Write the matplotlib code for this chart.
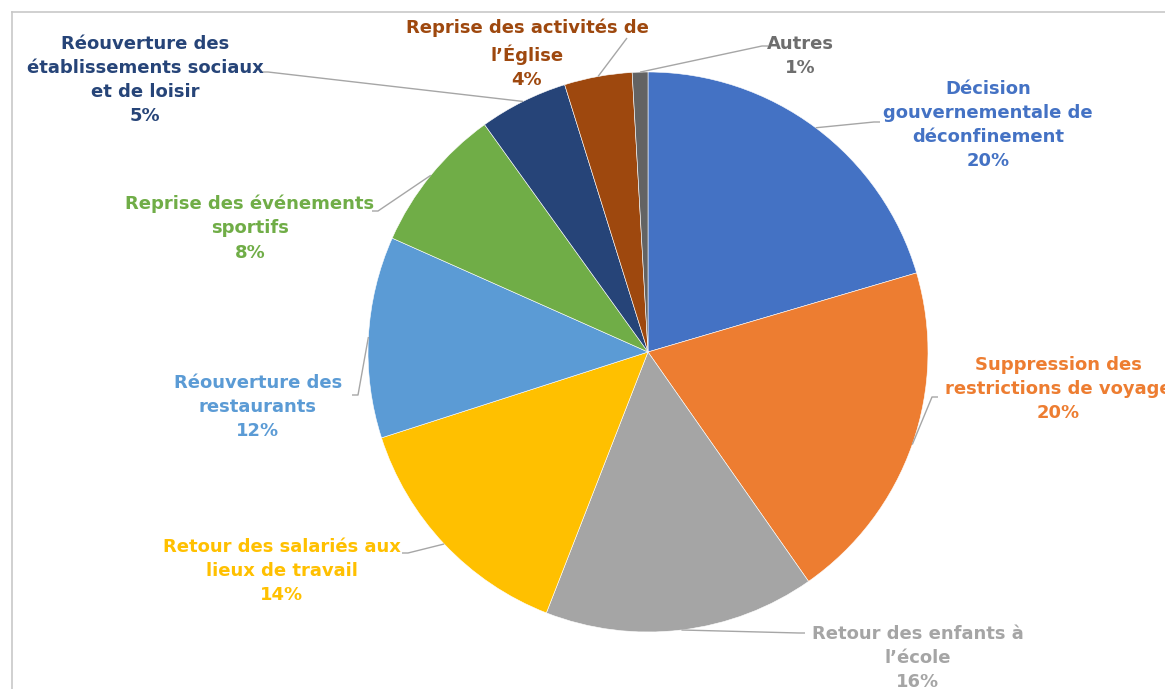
#!/usr/bin/env python3
"""Pie chart: facteurs de reprise (déconfinement), labels outside with leader lines."""

import matplotlib
matplotlib.use("Agg")
import matplotlib.pyplot as plt
import numpy as np
from matplotlib.lines import Line2D

W, H = 1165, 689

# Data (clockwise from 12 o'clock)
categories = [
    "Décision\ngouvernementale de\ndéconfinement",
    "Suppression des\nrestrictions de voyage",
    "Retour des enfants à\nl\u2019école",
    "Retour des salariés aux\nlieux de travail",
    "Réouverture des\nrestaurants",
    "Reprise des événements\nsportifs",
    "Réouverture des\nétablissements sociaux\net de loisir",
    "Reprise des activités de\nl\u2019Église",
    "Autres",
]
values = [20.4, 19.8, 15.6, 14.1, 11.6, 8.4, 5.1, 3.9, 0.9]
colors = ["#4472C4", "#ED7D31", "#A5A5A5", "#FFC000", "#5B9BD5",
          "#70AD47", "#264478", "#9E480E", "#636363"]
text_colors = ["#4472C4", "#ED7D31", "#A5A5A5", "#FFC000", "#5B9BD5",
               "#70AD47", "#264478", "#9E480E", "#6E6E6E"]

# Layout (pixel coords, y from top): label centre, leader attach point, stub direction
label_xy = [(988, 125), (1058, 389), (918, 658), (282, 571), (258, 407),
            (250, 228), (145, 80), (527, 54), (800, 56)]
attach_xy = [(880, 122), (938, 397), (805, 633), (402, 553), (352, 395),
             (372, 211), (262, 72), (627, 38), (768, 46)]
stub_dir = [1, 1, 1, -1, -1, -1, -1, 0, 1]

CENTER = (648, 352)
RADIUS = 280


def px(x, y):
    return x, H - y


fig = plt.figure(figsize=(W / 100, H / 100), dpi=100)
ax = fig.add_axes([0, 0, 1, 1])

wedges, _ = ax.pie(
    values, colors=colors, startangle=90, counterclock=False,
    center=px(*CENTER), radius=RADIUS,
    wedgeprops=dict(edgecolor="white", linewidth=0.4),
)
ax.set_xlim(0, W)
ax.set_ylim(0, H)
ax.set_aspect("auto")
ax.axis("off")

for i, (w, name) in enumerate(zip(wedges, categories)):
    mid = np.deg2rad((w.theta1 + w.theta2) / 2)
    cx, cy = px(*CENTER)
    ex, ey = cx + RADIUS * np.cos(mid), cy + RADIUS * np.sin(mid)
    axp, ayp = px(*attach_xy[i])
    elx = axp - 6 * stub_dir[i]
    ax.plot([ex, elx, axp], [ey, ayp, ayp], color="#A6A6A6", lw=1.0,
            solid_capstyle="butt", zorder=1)
    pct = round(values[i])
    tx, ty = px(*label_xy[i])
    ax.text(tx, ty, f"{name}\n{pct}%", ha="center", va="center",
            multialignment="center", fontsize=13, fontweight="bold",
            color=text_colors[i], linespacing=1.45, family="DejaVu Sans")

# light frame of the original chart area
fx, fy = 12 / W, 1 - 12 / H
fig.add_artist(Line2D([fx, 1], [fy, fy], color="#C8C8C8", lw=1.2,
                      transform=fig.transFigure))
fig.add_artist(Line2D([fx, fx], [0, fy], color="#C8C8C8", lw=1.2,
                      transform=fig.transFigure))

fig.savefig("out.png", dpi=100)
plt.close(fig)
